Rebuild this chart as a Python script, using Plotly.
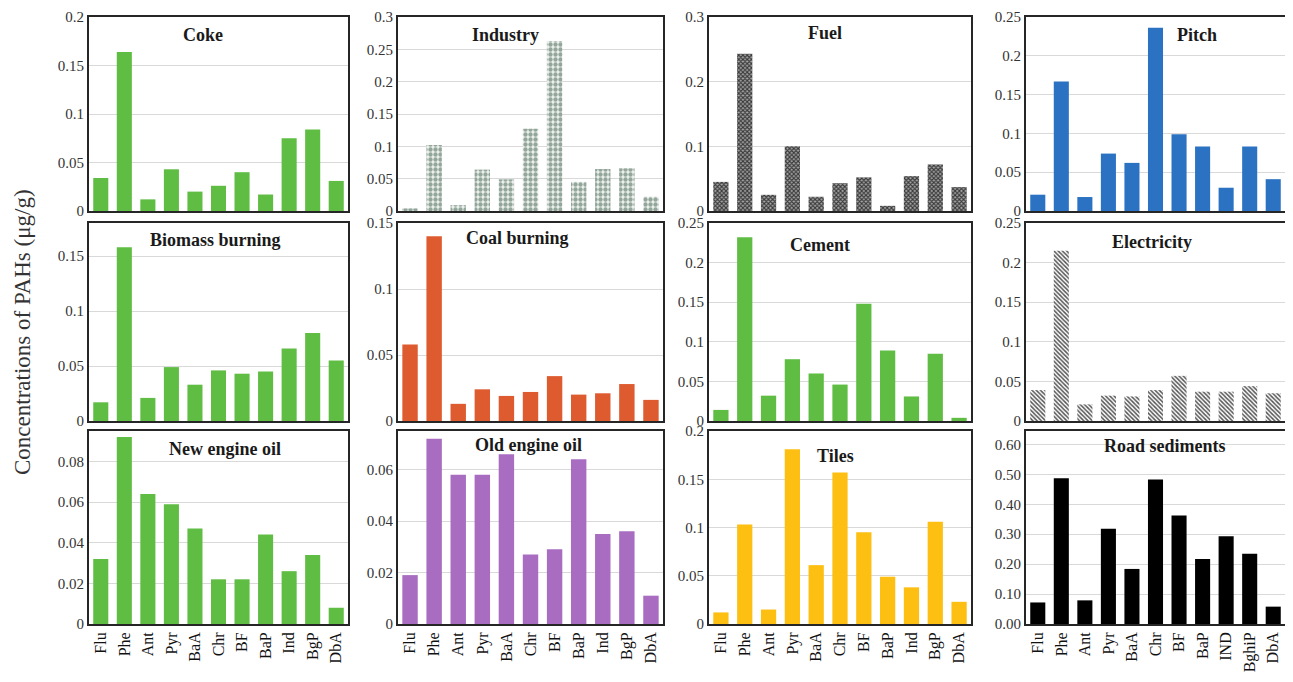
import plotly.graph_objects as go

cats = ["Flu", "Phe", "Ant", "Pyr", "BaA", "Chr", "BF", "BaP", "Ind", "BgP", "DbA"]
cats_road = ["Flu", "Phe", "Ant", "Pyr", "BaA", "Chr", "BF", "BaP", "IND", "BghiP", "DbA"]

coke = [0.034, 0.164, 0.012, 0.043, 0.020, 0.026, 0.040, 0.017, 0.075, 0.084, 0.031]
industry = [0.004, 0.102, 0.009, 0.064, 0.049, 0.127, 0.263, 0.045, 0.065, 0.066, 0.022]
fuel = [0.045, 0.243, 0.025, 0.100, 0.022, 0.043, 0.052, 0.008, 0.054, 0.072, 0.037]
pitch = [0.021, 0.167, 0.018, 0.074, 0.062, 0.236, 0.099, 0.083, 0.030, 0.083, 0.041]
biomass = [0.017, 0.158, 0.021, 0.049, 0.033, 0.046, 0.043, 0.045, 0.066, 0.080, 0.055]
coal = [0.058, 0.140, 0.013, 0.024, 0.019, 0.022, 0.034, 0.020, 0.021, 0.028, 0.016]
cement = [0.014, 0.232, 0.032, 0.078, 0.060, 0.046, 0.148, 0.089, 0.031, 0.085, 0.004]
electricity = [0.039, 0.215, 0.021, 0.032, 0.031, 0.039, 0.057, 0.037, 0.037, 0.044, 0.035]
new_oil = [0.032, 0.092, 0.064, 0.059, 0.047, 0.022, 0.022, 0.044, 0.026, 0.034, 0.008]
old_oil = [0.019, 0.072, 0.058, 0.058, 0.066, 0.027, 0.029, 0.064, 0.035, 0.036, 0.011]
tiles = [0.012, 0.103, 0.015, 0.181, 0.061, 0.157, 0.095, 0.049, 0.038, 0.106, 0.023]
road = [0.072, 0.487, 0.079, 0.318, 0.184, 0.483, 0.363, 0.217, 0.293, 0.235, 0.058]

# page body has an 8px margin: size the figure to fit and offset coordinates
OFF = 8
W, H = 1293 - 2 * OFF, 682 - 2 * OFF
SERIF = "Liberation Serif"
GREEN = "#5fbd43"


def px_x(v):
    return min(1.0, max(0.0, (v - OFF) / W))


def px_y(v):
    return min(1.0, max(0.0, 1 - (v - OFF) / H))


panels = [
    # name, values, cats, row, col, ymax, dtick, tickformat, marker, title pos (px)
    ("Coke", coke, cats, 0, 0, 0.2, 0.05, None, dict(color=GREEN), (203, 35)),
    ("Industry", industry, cats, 0, 1, 0.3, 0.05, None,
     dict(color="#e4ebe6", pattern=dict(shape=".", fgcolor="#93a69b", bgcolor="#eef2ef", size=5, solidity=0.6)), (505, 35)),
    ("Fuel", fuel, cats, 0, 2, 0.3, 0.1, None,
     dict(color="#777777", pattern=dict(shape="x", fgcolor="#3a3a3a", bgcolor="#a6a6a6", size=3, solidity=0.6)), (825, 33)),
    ("Pitch", pitch, cats, 0, 3, 0.25, 0.05, None, dict(color="#2b72c2"), (1197, 35)),
    ("Biomass burning", biomass, cats, 1, 0, 0.18, 0.05, None, dict(color=GREEN), (215, 240)),
    ("Coal burning", coal, cats, 1, 1, 0.15, 0.05, None, dict(color="#de5b30"), (517, 238)),
    ("Cement", cement, cats, 1, 2, 0.25, 0.05, None, dict(color=GREEN), (820, 245)),
    ("Electricity", electricity, cats, 1, 3, 0.25, 0.05, None,
     dict(color="#ffffff", pattern=dict(shape="\\", fgcolor="#555555", bgcolor="#ffffff", size=3, solidity=0.5)), (1152, 242)),
    ("New engine oil", new_oil, cats, 2, 0, 0.095, 0.02, None, dict(color=GREEN), (225, 449)),
    ("Old engine oil", old_oil, cats, 2, 1, 0.075, 0.02, None, dict(color="#a86cc1"), (528, 445)),
    ("Tiles", tiles, cats, 2, 2, 0.2, 0.05, None, dict(color="#fdbf12"), (835, 456)),
    ("Road sediments", road, cats_road, 2, 3, 0.645, 0.1, ".2f", dict(color="#000000"), (1165, 446)),
]

col_px = [(89, 348), (398, 663), (709, 971), (1026, 1285)]
row_px = [(17, 211), (223, 421), (431, 624)]

fig = go.Figure()
annotations = []
for i, (name, vals, cc, r, c, ymax, dt, tf, marker, tpos) in enumerate(panels):
    n = i + 1
    xa = "x" if n == 1 else f"x{n}"
    ya = "y" if n == 1 else f"y{n}"
    fig.add_trace(go.Bar(x=cc, y=vals, marker=dict(line=dict(width=0), **marker),
                         xaxis=xa, yaxis=ya, showlegend=False, hoverinfo="x+y"))
    x0, x1 = col_px[c]
    t, b = row_px[r]
    xkey = "xaxis" if n == 1 else f"xaxis{n}"
    ykey = "yaxis" if n == 1 else f"yaxis{n}"
    fig.layout[xkey] = dict(
        domain=[px_x(x0), px_x(x1)], anchor=ya, showline=True, mirror=True,
        linecolor="#262626", linewidth=1.8, showgrid=False, ticks="",
        showticklabels=(r == 2), tickangle=-90, automargin=False,
        tickfont=dict(family=SERIF, size=16, color="#111111"),
        fixedrange=True,
    )
    fig.layout[ykey] = dict(
        domain=[px_y(b), px_y(t)], anchor=xa, range=[0, ymax], dtick=dt, tick0=0,
        showline=True, mirror=True, linecolor="#262626", linewidth=1.8,
        showgrid=True, gridcolor="#d9d9d9", gridwidth=1, zeroline=False,
        ticks="", tickfont=dict(family=SERIF, size=15, color="#333333"),
        tickformat=tf, fixedrange=True, automargin=False,
    )
    annotations.append(dict(
        text=f"<b>{name}</b>", x=px_x(tpos[0]), y=px_y(tpos[1]), xref="paper", yref="paper",
        showarrow=False, xanchor="center", yanchor="middle",
        font=dict(family=SERIF, size=18, color="#1a1a1a"),
    ))

annotations.append(dict(
    text="Concentrations of PAHs (μg/g)", x=px_x(22), y=px_y(332), xref="paper", yref="paper",
    showarrow=False, textangle=-90, xanchor="center", yanchor="middle",
    font=dict(family=SERIF, size=23, color="#333333"),
))

fig.update_layout(
    template="none",
    width=W, height=H, margin=dict(l=0, r=0, t=0, b=0, autoexpand=False),
    paper_bgcolor="white", plot_bgcolor="white",
    bargap=0.36, annotations=annotations,
)

fig.write_html("out.html")
